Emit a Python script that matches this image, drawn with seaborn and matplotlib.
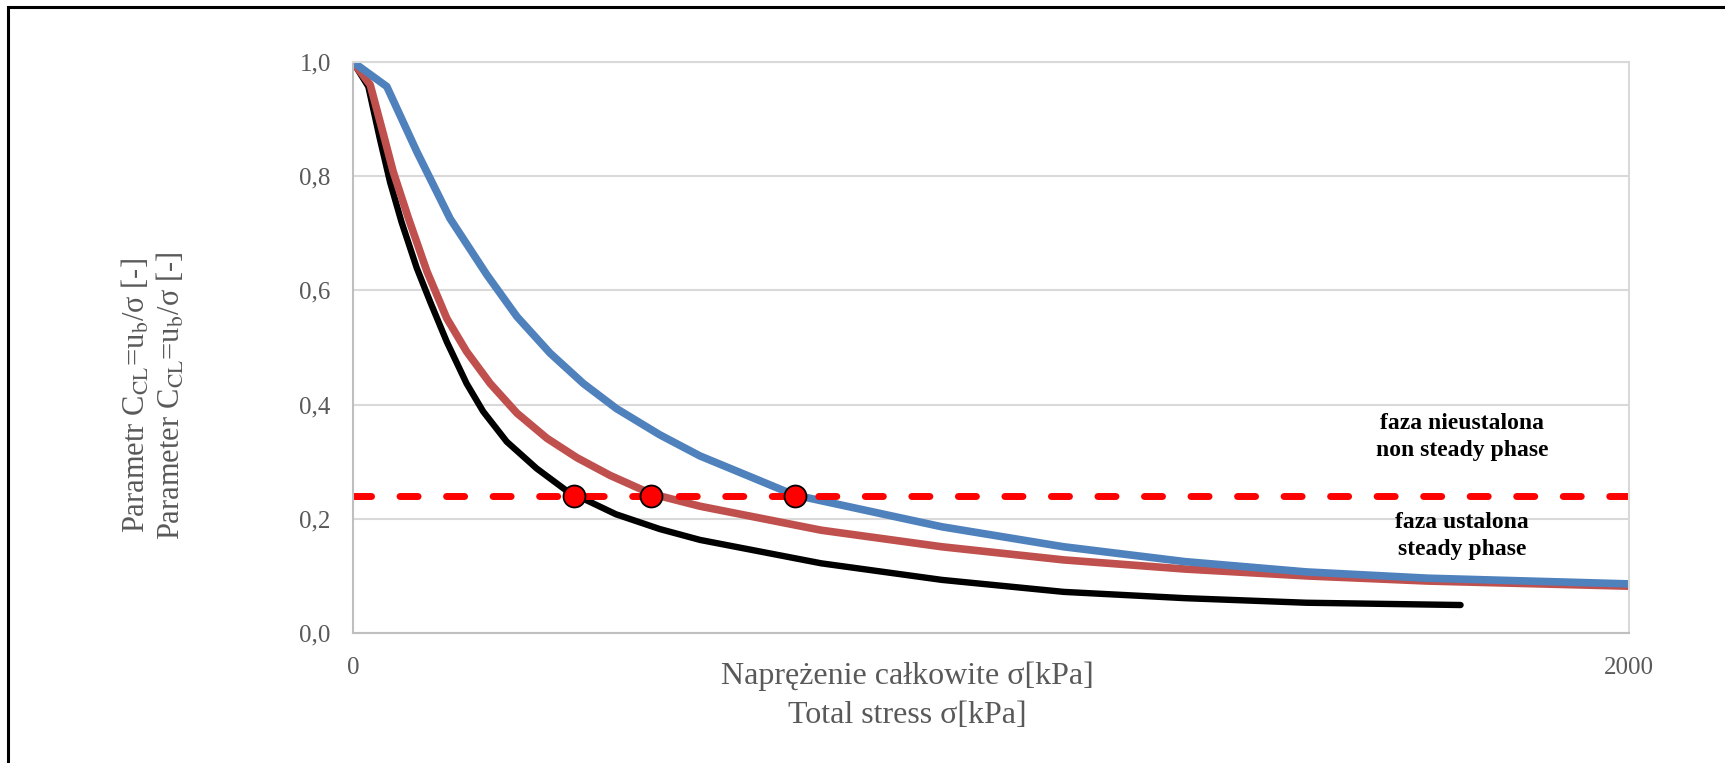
import matplotlib
matplotlib.use("Agg")
import matplotlib.pyplot as plt
import matplotlib.patches as patches
from matplotlib.ticker import FuncFormatter
import seaborn as sns

# curve values
black_x = [0, 24, 42, 58, 76, 100, 121, 147, 178, 204, 241, 288, 335, 382, 412, 481, 544, 734, 923, 1114, 1304, 1494, 1736]
black_y = [1.0, 0.957, 0.866, 0.79, 0.72, 0.639, 0.58, 0.51, 0.437, 0.388, 0.335, 0.288, 0.249, 0.224, 0.208, 0.182, 0.163, 0.122, 0.093, 0.072, 0.061, 0.053, 0.049]

red_x = [0, 27, 48, 63, 87, 116, 147, 178, 215, 257, 304, 351, 403, 467, 544, 734, 923, 1114, 1304, 1494, 1684, 2000]
red_y = [1.0, 0.96, 0.872, 0.808, 0.726, 0.633, 0.551, 0.493, 0.437, 0.385, 0.341, 0.307, 0.276, 0.244, 0.222, 0.18, 0.151, 0.128, 0.112, 0.1, 0.091, 0.082]

blue_x = [0, 53, 100, 152, 210, 257, 309, 361, 413, 481, 544, 622, 691, 923, 1114, 1304, 1494, 1684, 2000]
blue_y = [1.0, 0.957, 0.843, 0.726, 0.627, 0.554, 0.49, 0.437, 0.393, 0.347, 0.31, 0.274, 0.242, 0.186, 0.151, 0.125, 0.107, 0.096, 0.086]

limit_x = [0, 2000]
limit_y = [0.24, 0.24]

dots_x = [346, 467, 693]
dots_y = [0.24, 0.24, 0.24]

sns.set_style("whitegrid")
plt.rcParams['font.family'] = ['Liberation Serif', 'DejaVu Serif']
plt.rcParams['mathtext.fontset'] = 'stix'

fig = plt.figure(figsize=(17.25, 7.63), dpi=100)
ax = fig.add_axes([353 / 1725, 1 - 633 / 763, 1276 / 1725, 571 / 763])

sns.lineplot(x=black_x, y=black_y, sort=False, color='black', linewidth=4.6, ax=ax)
sns.lineplot(x=red_x, y=red_y, sort=False, color='#C0504D', linewidth=5.5, ax=ax)
sns.lineplot(x=blue_x, y=blue_y, sort=False, color='#4F81BD', linewidth=5.5, ax=ax)
ax.plot(limit_x, limit_y, color='#FF0000', linewidth=5,
        dashes=(2.6, 4.1), dash_capstyle='round')
sns.scatterplot(x=dots_x, y=dots_y, color='#FF0000', edgecolor='black',
                linewidth=1.3, s=250, zorder=5, ax=ax)

ax.set_xlim(0, 2000)
ax.set_ylim(0, 1.0)
ax.set_xticks([0, 2000])
ax.set_yticks([0, 0.2, 0.4, 0.6, 0.8, 1.0])
ax.yaxis.set_major_formatter(FuncFormatter(lambda v, p: f"{v:.1f}".replace('.', ',')))
ax.tick_params(axis='both', colors='#595959', labelsize=18, length=0)
ax.tick_params(axis='x', pad=17)
ax.tick_params(axis='y', pad=16)
ax.grid(axis='x', visible=False)
ax.grid(axis='y', color='#D9D9D9', linewidth=1.5)
for side in ['top', 'right']:
    ax.spines[side].set_color('#D9D9D9')
    ax.spines[side].set_linewidth(1.5)
for side in ['left', 'bottom']:
    ax.spines[side].set_color('#BFBFBF')
    ax.spines[side].set_linewidth(1.5)

ax.set_xlabel("Naprężenie całkowite σ[kPa]\nTotal stress σ[kPa]",
              fontsize=23, color='#595959', linespacing=1.45)
ax.xaxis.set_label_coords((907 - 353) / 1276, (633 - 696) / 571)
ax.xaxis.label.set_verticalalignment('center')

ax.set_ylabel("Parametr C$_{\\mathrm{CL}}$=u$_{\\mathrm{b}}$/σ [-]\n"
              "Parameter C$_{\\mathrm{CL}}$=u$_{\\mathrm{b}}$/σ [-]",
              fontsize=22, color='#595959', linespacing=1.17)
ax.yaxis.set_label_coords((154 - 353) / 1276, (633 - 396) / 571)
ax.yaxis.label.set_verticalalignment('center')

ax.text(1738, 0.343, "faza nieustalona\nnon steady phase", ha='center', va='center',
        fontsize=17, fontweight='bold', color='black', linespacing=1.36)
ax.text(1738, 0.170, "faza ustalona\nsteady phase", ha='center', va='center',
        fontsize=17, fontweight='bold', color='black', linespacing=1.36)

# outer frame around the chart
fig.patches.append(patches.Rectangle((8 / 1725, -0.1), 1.2, 1 - 7 / 763 + 0.1,
                                     transform=fig.transFigure, fill=False,
                                     edgecolor='black', linewidth=2.2))

fig.savefig("out.png", dpi=100)
